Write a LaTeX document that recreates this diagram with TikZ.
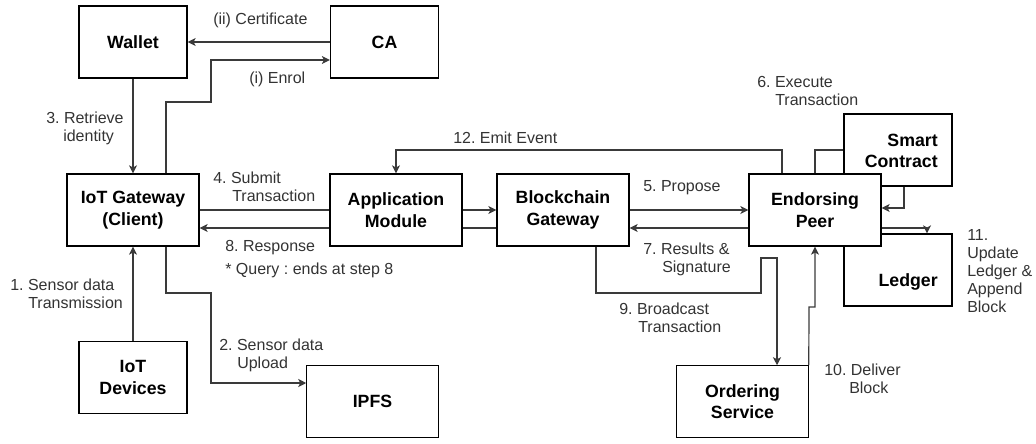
\documentclass[tikz,border=0pt]{standalone}
\usepackage{fontspec}
\setmainfont{Liberation Sans}
\frenchspacing
\usetikzlibrary{arrows.meta}
\definecolor{labelgray}{HTML}{333333}
\definecolor{linegray}{HTML}{3A3A3A}
\begin{document}
\begin{tikzpicture}[x=0.75pt,y=-0.75pt,
  box/.style={draw=black, fill=white, line width=0.9pt, inner sep=0pt, align=center,
    font=\fontsize{13.3}{16}\selectfont\bfseries, text=black},
  wbox/.style={box, minimum width=81pt, minimum height=54pt},
  gbox/.style={box, minimum width=99pt, minimum height=54pt},
  boxtext/.style={inner sep=0pt, font=\fontsize{13.3}{16}\selectfont\bfseries, text=black},
  lbl/.style={anchor=base west, inner sep=0pt, align=left,
    font=\fontsize{12}{13.5}\selectfont, text=labelgray},
  link/.style={draw=linegray, line width=0.9pt},
  arr/.style={link, -{Stealth[length=6pt,width=6pt,inset=1.5pt]}}]
\useasboundingbox (0,0) rectangle (1036,443);

% bend points of the routed connectors
\coordinate (up) at (0,210);
\coordinate (lo) at (0,228);
\coordinate (en1) at (166,102);
\coordinate (en2) at (211,102);
\coordinate (en3) at (211,60);
\coordinate (ip1) at (166,293);
\coordinate (ip2) at (211,293);
\coordinate (ip3) at (211,383);
\coordinate (em1) at (782,150);
\coordinate (em2) at (396,150);
\coordinate (ex1) at (815,150);
\coordinate (sc1) at (904,208);
\coordinate (ld1) at (927,228);
\coordinate (bc1) at (596,293);
\coordinate (bc2) at (761,293);
\coordinate (bc3) at (761,258);
\coordinate (bc4) at (777,258);
\coordinate (dl1) at (809,307);
\coordinate (dl2) at (815,307);

% boxes
\node[wbox] (wallet) at (133,42) {Wallet};
\node[wbox] (ca) at (384.5,42) {CA};
\node[gbox] (gw) at (133,210) {IoT Gateway\\(Client)};
\node[gbox] (app) at (396,210) {Application\\Module};
\node[gbox] (bg) at (563,210) {Blockchain\\Gateway};
\node[wbox] (sc) at (898,150) {};
\node[boxtext, anchor=east, align=right] (sct) at (938,151) {Smart\\Contract};
\node[wbox] (ledger) at (898,270) {};
\node[boxtext, anchor=east] (ldt) at (938,282) {Ledger};
\node[gbox] (ep) at (815,210) {Endorsing\\Peer};
\node[wbox] (dev) at (133,377.5) {IoT\\Devices};
\node[box, minimum width=98.5pt, minimum height=53.5pt] (ipfs) at (372.5,401.5) {IPFS};
\node[box, minimum width=98.5pt, minimum height=53.5pt] (ord) at (742.5,401.5) {Ordering\\Service};

% connectors
\draw[arr] (ca.west) -- (wallet.east);
\draw[arr] (gw.north -| en1) -- (en1) -- (en2) -- (en3) -- (ca.west |- en3);
\draw[arr] (wallet) -- (gw);
\draw[arr] (dev) -- (gw);
\draw[arr] (gw.south -| ip1) -- (ip1) -- (ip2) -- (ip3) -- (ipfs.west |- ip3);
\draw[link] (gw.east |- up) -- (app.west |- up);
\draw[arr] (app.west |- lo) -- (gw.east |- lo);
\draw[arr] (app.east |- up) -- (bg.west |- up);
\draw[link] (bg.west |- lo) -- (app.east |- lo);
\draw[arr] (bg.east |- up) -- (ep.west |- up);
\draw[arr] (ep.west |- lo) -- (bg.east |- lo);
\draw[arr] (ep.north -| em1) -- (em1) -- (em2) -- (app.north);
\draw[link] (ep.north -| ex1) -- (ex1) -- (sc.west |- ex1);
\draw[arr] (sc.south -| sc1) -- (sc1) -- (ep.east |- sc1);
\draw[arr] (ep.east |- ld1) -- (ld1) -- (ledger.north -| ld1);
\draw[arr] (bg.south -| bc1) -- (bc1) -- (bc2) -- (bc3) -- (bc4) -- (ord.north -| bc4);
\draw[arr] (ord.north east) -- (dl1) -- (dl2) -- (ep.south -| dl2);

% step labels (anchored at the baseline of their last line)
\node[lbl] (l1) at (213,24.5) {(ii) Certificate};
\node[lbl] (l2) at (249,83.5) {(i) Enrol};
\node[lbl] (l3) at (46,141.5) {3. Retrieve\\\hspace*{12.75pt}identity};
\node[lbl] (l4) at (10,308.5) {1. Sensor data\\\hspace*{13.5pt}Transmission};
\node[lbl] (l5) at (213,201) {4. Submit\\\hspace*{14.25pt}Transaction};
\node[lbl] (l6) at (225,251.5) {8. Response};
\node[lbl] (l7) at (225,274.5) {* Query : ends at step 8};
\node[lbl] (l8) at (219,368.5) {2. Sensor data\\\hspace*{13.5pt}Upload};
\node[lbl] (l9) at (453,143.5) {12. Emit Event};
\node[lbl] (l10) at (643,191.5) {5. Propose};
\node[lbl] (l11) at (643,272.5) {7. Results \&\\\hspace*{14.25pt}Signature};
\node[lbl] (l12) at (619,332.5) {9. Broadcast\\\hspace*{14.25pt}Transaction};
\node[lbl] (l13) at (757,105) {6. Execute\\\hspace*{13.5pt}Transaction};
\node[lbl] (l14) at (824,393.5) {10. Deliver\\\hspace*{18.75pt}Block};
\node[lbl] (l15) at (967,312.5) {11.\\Update\\Ledger \&\\Append\\Block};
\end{tikzpicture}
\end{document}
